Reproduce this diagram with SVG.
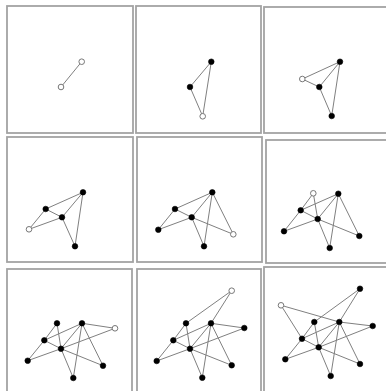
<svg xmlns="http://www.w3.org/2000/svg" width="386" height="391" viewBox="0 0 386 391">
<style>
.frame{fill:#fff;stroke:#a3a3a3;stroke-width:1.8}
.e line{stroke:#808080;stroke-width:1}
.n{fill:#000;stroke:#000;stroke-width:0.6}
.o{fill:#fff;stroke:#777;stroke-width:1}
</style>
<rect width="386" height="391" fill="#fff"/>
<g id="frames">
<rect class="frame" x="7" y="6" width="126" height="127"/>
<rect class="frame" x="136" y="6" width="125" height="127"/>
<rect class="frame" x="264" y="7" width="130" height="126"/>
<rect class="frame" x="7" y="137" width="126" height="125"/>
<rect class="frame" x="137" y="137" width="125" height="125"/>
<rect class="frame" x="266" y="140" width="130" height="123"/>
<rect class="frame" x="7" y="269" width="125" height="130"/>
<rect class="frame" x="137" y="269" width="124" height="130"/>
<rect class="frame" x="264" y="267" width="130" height="130"/>
</g>
<g id="connectors" class="e">
<!-- panel 1 -->
<line x1="81.7" y1="61.7" x2="61" y2="87"/>
<!-- panel 2 -->
<line x1="211.3" y1="61.7" x2="190" y2="87"/>
<line x1="190" y1="87" x2="202.7" y2="116.3"/>
<line x1="211.3" y1="61.7" x2="202.7" y2="116.3"/>
<!-- panel 3 -->
<line x1="302.3" y1="79" x2="340" y2="61.7"/>
<line x1="302.3" y1="79" x2="319.3" y2="87"/>
<line x1="319.3" y1="87" x2="340" y2="61.7"/>
<line x1="319.3" y1="87" x2="331.7" y2="116"/>
<line x1="340" y1="61.7" x2="331.7" y2="116"/>
<!-- panel 4 -->
<line x1="83" y1="192.3" x2="45.7" y2="209"/>
<line x1="83" y1="192.3" x2="62" y2="217.3"/>
<line x1="83" y1="192.3" x2="75" y2="246.3"/>
<line x1="45.7" y1="209" x2="62" y2="217.3"/>
<line x1="62" y1="217.3" x2="75" y2="246.3"/>
<line x1="29" y1="229.3" x2="45.7" y2="209"/>
<line x1="29" y1="229.3" x2="62" y2="217.3"/>
<!-- panel 5 -->
<line x1="212.3" y1="192.3" x2="175" y2="209"/>
<line x1="212.3" y1="192.3" x2="191.7" y2="217.3"/>
<line x1="212.3" y1="192.3" x2="204" y2="246.3"/>
<line x1="175" y1="209" x2="191.7" y2="217.3"/>
<line x1="191.7" y1="217.3" x2="204" y2="246.3"/>
<line x1="158.3" y1="229.7" x2="175" y2="209"/>
<line x1="158.3" y1="229.7" x2="191.7" y2="217.3"/>
<line x1="233.3" y1="234.3" x2="212.3" y2="192.3"/>
<line x1="233.3" y1="234.3" x2="191.7" y2="217.3"/>
<!-- panel 6 -->
<line x1="338.3" y1="193.7" x2="300.7" y2="210.3"/>
<line x1="338.3" y1="193.7" x2="317.7" y2="219"/>
<line x1="338.3" y1="193.7" x2="329.7" y2="248"/>
<line x1="300.7" y1="210.3" x2="317.7" y2="219"/>
<line x1="317.7" y1="219" x2="329.7" y2="248"/>
<line x1="284" y1="231.3" x2="300.7" y2="210.3"/>
<line x1="284" y1="231.3" x2="317.7" y2="219"/>
<line x1="359.3" y1="236" x2="338.3" y2="193.7"/>
<line x1="359.3" y1="236" x2="317.7" y2="219"/>
<line x1="313.3" y1="193.3" x2="300.7" y2="210.3"/>
<line x1="313.3" y1="193.3" x2="317.7" y2="219"/>
<!-- panel 7 -->
<line x1="57" y1="323.3" x2="44.3" y2="340.3"/>
<line x1="57" y1="323.3" x2="61" y2="348.7"/>
<line x1="82" y1="323.3" x2="44.3" y2="340.3"/>
<line x1="82" y1="323.3" x2="61" y2="348.7"/>
<line x1="82" y1="323.3" x2="73.3" y2="378"/>
<line x1="44.3" y1="340.3" x2="61" y2="348.7"/>
<line x1="61" y1="348.7" x2="73.3" y2="378"/>
<line x1="27.7" y1="360.7" x2="44.3" y2="340.3"/>
<line x1="27.7" y1="360.7" x2="61" y2="348.7"/>
<line x1="103" y1="365.7" x2="82" y2="323.3"/>
<line x1="103" y1="365.7" x2="61" y2="348.7"/>
<line x1="115" y1="328.3" x2="82" y2="323.3"/>
<line x1="115" y1="328.3" x2="61" y2="348.7"/>
<!-- panel 8 -->
<line x1="231.7" y1="290.7" x2="186" y2="323.3"/>
<line x1="231.7" y1="290.7" x2="211" y2="323.3"/>
<line x1="186" y1="323.3" x2="173.3" y2="340.3"/>
<line x1="186" y1="323.3" x2="190" y2="348.7"/>
<line x1="211" y1="323.3" x2="173.3" y2="340.3"/>
<line x1="211" y1="323.3" x2="190" y2="348.7"/>
<line x1="211" y1="323.3" x2="202.3" y2="377.7"/>
<line x1="173.3" y1="340.3" x2="190" y2="348.7"/>
<line x1="190" y1="348.7" x2="202.3" y2="377.7"/>
<line x1="156.7" y1="361" x2="173.3" y2="340.3"/>
<line x1="156.7" y1="361" x2="190" y2="348.7"/>
<line x1="231.7" y1="365.3" x2="211" y2="323.3"/>
<line x1="231.7" y1="365.3" x2="190" y2="348.7"/>
<line x1="244.3" y1="328" x2="211" y2="323.3"/>
<line x1="244.3" y1="328" x2="190" y2="348.7"/>
<!-- panel 9 -->
<line x1="360" y1="288.7" x2="314.3" y2="322"/>
<line x1="360" y1="288.7" x2="339.3" y2="322"/>
<line x1="281" y1="305.3" x2="339.3" y2="322"/>
<line x1="281" y1="305.3" x2="302" y2="338.7"/>
<line x1="314.3" y1="322" x2="302" y2="338.7"/>
<line x1="314.3" y1="322" x2="318.7" y2="347.3"/>
<line x1="339.3" y1="322" x2="302" y2="338.7"/>
<line x1="339.3" y1="322" x2="318.7" y2="347.3"/>
<line x1="339.3" y1="322" x2="330.7" y2="376"/>
<line x1="302" y1="338.7" x2="318.7" y2="347.3"/>
<line x1="318.7" y1="347.3" x2="330.7" y2="376"/>
<line x1="285.3" y1="359.3" x2="302" y2="338.7"/>
<line x1="285.3" y1="359.3" x2="318.7" y2="347.3"/>
<line x1="360" y1="364" x2="339.3" y2="322"/>
<line x1="360" y1="364" x2="318.7" y2="347.3"/>
<line x1="372.7" y1="326" x2="339.3" y2="322"/>
<line x1="372.7" y1="326" x2="318.7" y2="347.3"/>
</g>
<g id="panel1">
<g id="p1-a"><circle class="o" cx="81.7" cy="61.7" r="2.8"/></g>
<g id="p1-b"><circle class="o" cx="61" cy="87" r="2.8"/></g>
</g>
<g id="panel2">
<g id="p2-top"><circle class="n" cx="211.3" cy="61.7" r="2.8"/></g>
<g id="p2-a"><circle class="n" cx="190" cy="87" r="2.8"/></g>
<g id="p2-new"><circle class="o" cx="202.7" cy="116.3" r="2.8"/></g>
</g>
<g id="panel3">
<g id="p3-top"><circle class="n" cx="340" cy="61.7" r="2.8"/></g>
<g id="p3-a"><circle class="n" cx="319.3" cy="87" r="2.8"/></g>
<g id="p3-bottom"><circle class="n" cx="331.7" cy="116" r="2.8"/></g>
<g id="p3-new"><circle class="o" cx="302.3" cy="79" r="2.8"/></g>
</g>
<g id="panel4">
<g id="p4-top"><circle class="n" cx="83" cy="192.3" r="2.8"/></g>
<g id="p4-a"><circle class="n" cx="45.7" cy="209" r="2.8"/></g>
<g id="p4-mid"><circle class="n" cx="62" cy="217.3" r="2.8"/></g>
<g id="p4-bottom"><circle class="n" cx="75" cy="246.3" r="2.8"/></g>
<g id="p4-new"><circle class="o" cx="29" cy="229.3" r="2.8"/></g>
</g>
<g id="panel5">
<g id="p5-top"><circle class="n" cx="212.3" cy="192.3" r="2.8"/></g>
<g id="p5-a"><circle class="n" cx="175" cy="209" r="2.8"/></g>
<g id="p5-mid"><circle class="n" cx="191.7" cy="217.3" r="2.8"/></g>
<g id="p5-bottom"><circle class="n" cx="204" cy="246.3" r="2.8"/></g>
<g id="p5-left"><circle class="n" cx="158.3" cy="229.7" r="2.8"/></g>
<g id="p5-new"><circle class="o" cx="233.3" cy="234.3" r="2.8"/></g>
</g>
<g id="panel6">
<g id="p6-top"><circle class="n" cx="338.3" cy="193.7" r="2.8"/></g>
<g id="p6-a"><circle class="n" cx="300.7" cy="210.3" r="2.8"/></g>
<g id="p6-mid"><circle class="n" cx="317.7" cy="219" r="2.8"/></g>
<g id="p6-bottom"><circle class="n" cx="329.7" cy="248" r="2.8"/></g>
<g id="p6-left"><circle class="n" cx="284" cy="231.3" r="2.8"/></g>
<g id="p6-right"><circle class="n" cx="359.3" cy="236" r="2.8"/></g>
<g id="p6-new"><circle class="o" cx="313.3" cy="193.3" r="2.8"/></g>
</g>
<g id="panel7">
<g id="p7-b"><circle class="n" cx="57" cy="323.3" r="2.8"/></g>
<g id="p7-top"><circle class="n" cx="82" cy="323.3" r="2.8"/></g>
<g id="p7-a"><circle class="n" cx="44.3" cy="340.3" r="2.8"/></g>
<g id="p7-mid"><circle class="n" cx="61" cy="348.7" r="2.8"/></g>
<g id="p7-left"><circle class="n" cx="27.7" cy="360.7" r="2.8"/></g>
<g id="p7-right"><circle class="n" cx="103" cy="365.7" r="2.8"/></g>
<g id="p7-bottom"><circle class="n" cx="73.3" cy="378" r="2.8"/></g>
<g id="p7-new"><circle class="o" cx="115" cy="328.3" r="2.8"/></g>
</g>
<g id="panel8">
<g id="p8-b"><circle class="n" cx="186" cy="323.3" r="2.8"/></g>
<g id="p8-top"><circle class="n" cx="211" cy="323.3" r="2.8"/></g>
<g id="p8-c"><circle class="n" cx="244.3" cy="328" r="2.8"/></g>
<g id="p8-a"><circle class="n" cx="173.3" cy="340.3" r="2.8"/></g>
<g id="p8-mid"><circle class="n" cx="190" cy="348.7" r="2.8"/></g>
<g id="p8-left"><circle class="n" cx="156.7" cy="361" r="2.8"/></g>
<g id="p8-right"><circle class="n" cx="231.7" cy="365.3" r="2.8"/></g>
<g id="p8-bottom"><circle class="n" cx="202.3" cy="377.7" r="2.8"/></g>
<g id="p8-new"><circle class="o" cx="231.7" cy="290.7" r="2.8"/></g>
</g>
<g id="panel9">
<g id="p9-d"><circle class="n" cx="360" cy="288.7" r="2.8"/></g>
<g id="p9-b"><circle class="n" cx="314.3" cy="322" r="2.8"/></g>
<g id="p9-top"><circle class="n" cx="339.3" cy="322" r="2.8"/></g>
<g id="p9-c"><circle class="n" cx="372.7" cy="326" r="2.8"/></g>
<g id="p9-a"><circle class="n" cx="302" cy="338.7" r="2.8"/></g>
<g id="p9-mid"><circle class="n" cx="318.7" cy="347.3" r="2.8"/></g>
<g id="p9-left"><circle class="n" cx="285.3" cy="359.3" r="2.8"/></g>
<g id="p9-right"><circle class="n" cx="360" cy="364" r="2.8"/></g>
<g id="p9-bottom"><circle class="n" cx="330.7" cy="376" r="2.8"/></g>
<g id="p9-new"><circle class="o" cx="281" cy="305.3" r="2.8"/></g>
</g>
</svg>
